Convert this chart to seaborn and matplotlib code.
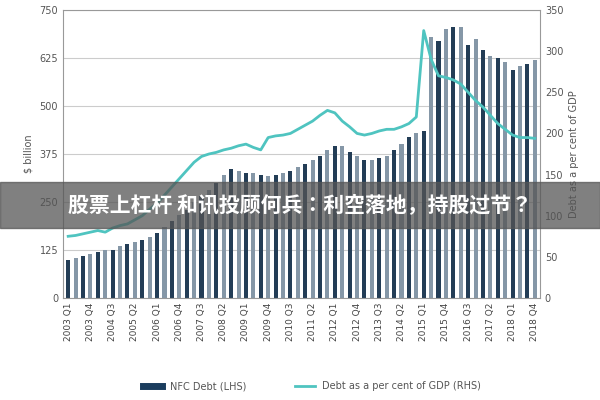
import numpy as np
import pandas as pd
import seaborn as sns
import matplotlib
matplotlib.use("Agg")
import matplotlib.pyplot as plt
from matplotlib import font_manager

quarters = [f"{y} Q{q}" for y in range(2003, 2019) for q in range(1, 5)]
nfc_debt = [100,105,110,115, 120,125,125,135, 140,145,150,160, 170,185,200,215,
            230,250,265,280, 300,320,335,330, 325,325,320,318, 320,325,330,340,
            350,360,370,385, 395,395,380,370, 360,360,365,370, 385,400,420,430,
            435,680,670,700, 705,705,660,675, 645,630,625,615, 595,605,610,620]
debt_gdp = [75,76,78,80, 82,80,85,88, 90,95,100,108, 115,125,135,145,
            155,165,172,175, 177,180,182,185, 187,183,180,195, 197,198,200,205,
            210,215,222,228, 225,215,208,200, 198,200,203,205, 205,208,212,220,
            325,290,270,268, 265,260,250,240, 232,222,212,205, 198,195,195,194]

plt.rcParams["font.family"] = ["DejaVu Sans", "Noto Sans CJK SC", "Noto Sans CJK JP"]

df = pd.DataFrame({"q": quarters, "debt": nfc_debt, "pct": debt_gdp})
x = np.arange(len(quarters))

fig = plt.figure(figsize=(6, 4), dpi=100)
ax = fig.add_axes([0.105, 0.255, 0.795, 0.72])
palette = ["#1b3d5e" if i % 2 == 0 else "#7f97ad" for i in range(len(x))]
sns.barplot(data=df, x="q", y="debt", hue="q", palette=palette, legend=False,
            ax=ax, width=0.55)
ax.set_ylim(0, 750)
ax.set_yticks([0, 125, 250, 375, 500, 625, 750])
ax.set_ylabel("$ billion", fontsize=7, color="#555")
ax.set_xlabel("")
ax.set_xticks(x[::3])
ax.set_xticklabels([quarters[i] for i in range(0, len(x), 3)], rotation=90, fontsize=6.5, color="#444")
ax.tick_params(axis="y", labelsize=7, colors="#555", length=0)
ax.tick_params(axis="x", length=0)
ax.yaxis.grid(True, color="#ccc", lw=0.8)
ax.set_axisbelow(True)
for s in ax.spines.values():
    s.set_color("#999")
ax.set_xlim(-0.7, len(x) - 0.3)

ax2 = ax.twinx()
sns.lineplot(x=x, y=df["pct"], ax=ax2, color="#4fc4c0", lw=2)
ax2.set_ylim(0, 350)
ax2.set_yticks(range(0, 351, 50))
ax2.set_ylabel("Debt as a per cent of GDP", fontsize=7, color="#555")
ax2.tick_params(axis="y", labelsize=7, colors="#555", length=0)
for s in ax2.spines.values():
    s.set_visible(False)

from matplotlib.lines import Line2D
handles = [Line2D([], [], color="#1b3d5e", lw=5), Line2D([], [], color="#4fc4c0", lw=2)]
fig.legend(handles, ["NFC Debt (LHS)", "Debt as a per cent of GDP (RHS)"], loc="lower center",
           ncol=2, frameon=False, fontsize=7, bbox_to_anchor=(0.52, 0.0), columnspacing=5,
           labelcolor="#555")

fig.patches.append(plt.Rectangle((0, 0.43), 1, 0.115, transform=fig.transFigure,
                                 color="#555555", alpha=0.75, zorder=10))
cjk = font_manager.FontProperties(family=["Noto Sans CJK SC", "Noto Sans CJK JP"],
                                  weight="bold", size=15)
fig.text(0.5, 0.4875, "股票上杠杆 和讯投顾何兵：利空落地，持股过节？", ha="center", va="center",
         color="white", fontproperties=cjk, zorder=11)

fig.savefig("out.png", dpi=100)
